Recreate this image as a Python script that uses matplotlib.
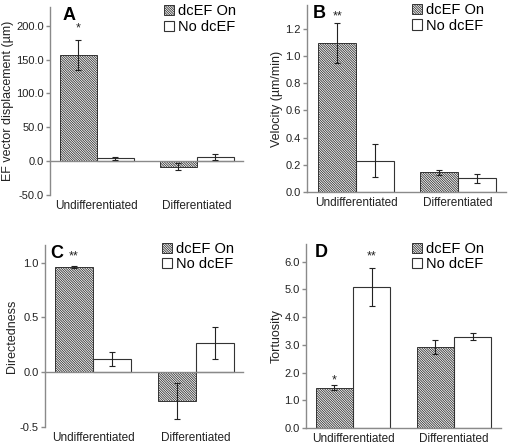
import matplotlib
matplotlib.use("Agg")
import matplotlib.pyplot as plt
from matplotlib.patches import Patch
import numpy as np

plt.rcParams['font.family'] = ['Liberation Sans', 'DejaVu Sans']
plt.rcParams['hatch.linewidth'] = 0.6

categories = ["Undifferentiated", "Differentiated"]
series = ["dcEF On", "No dcEF"]

# Panel A: EF vector displacement (um)
a_on = [157.0, -8.0]
a_on_err = [22.0, 5.5]
a_no = [4.0, 6.0]
a_no_err = [2.0, 5.0]

# Panel B: Velocity (um/min)
b_on = [1.095, 0.145]
b_on_err = [0.148, 0.02]
b_no = [0.23, 0.10]
b_no_err = [0.12, 0.033]

# Panel C: Directedness
c_on = [0.96, -0.26]
c_on_err = [0.006, 0.165]
c_no = [0.12, 0.265]
c_no_err = [0.068, 0.148]

# Panel D: Tortuosity
d_on = [1.45, 2.92]
d_on_err = [0.085, 0.25]
d_no = [5.1, 3.3]
d_no_err = [0.69, 0.11]

panels = [
    dict(letter="A", on=a_on, on_err=a_on_err, no=a_no, no_err=a_no_err,
         ylabel="EF vector displacement (µm)", ylim=(-50, 228),
         yticks=[-50, 0, 50, 100, 150, 200], xlim=(-0.47, 1.46),
         rect=[0.098, 0.563, 0.378, 0.4215],
         stars=[(-0.185, 196, "*")], letter_x=0.1, leg=(0.322, 0.99)),
    dict(letter="B", on=b_on, on_err=b_on_err, no=b_no, no_err=b_no_err,
         ylabel="Velocity (µm/min)", ylim=(0, 1.375),
         yticks=[0, 0.2, 0.4, 0.6, 0.8, 1.0, 1.2], xlim=(-0.48, 1.47),
         rect=[0.602, 0.5695, 0.390, 0.419],
         stars=[(-0.185, 1.295, "**")], letter_x=0.06, leg=(0.808, 0.993)),
    dict(letter="C", on=c_on, on_err=c_on_err, no=c_no, no_err=c_no_err,
         ylabel="Directedness", ylim=(-0.5, 1.16),
         yticks=[-0.5, 0.0, 0.5, 1.0], xlim=(-0.47, 1.46),
         rect=[0.088, 0.0426, 0.388, 0.408],
         stars=[(-0.185, 1.06, "**")], letter_x=0.06, leg=(0.318, 0.458)),
    dict(letter="D", on=d_on, on_err=d_on_err, no=d_no, no_err=d_no_err,
         ylabel="Tortuosity", ylim=(0, 6.64),
         yticks=[0, 1, 2, 3, 4, 5, 6], xlim=(-0.465, 1.465),
         rect=[0.6, 0.0404, 0.382, 0.4126],
         stars=[(-0.185, 1.73, "*"), (0.185, 6.18, "**")], letter_x=0.08,
         leg=(0.808, 0.458)),
]

fig = plt.figure(figsize=(5.10, 4.46), dpi=100)
x = np.arange(len(categories))
w = 0.37
spine_c = '#8a8a8a'
hatch = '\\' * 14

for p in panels:
    ax = fig.add_axes(p["rect"])
    ax.bar(x - w / 2, p["on"], w, color='white', edgecolor='#333333',
           hatch=hatch, linewidth=0.7, label=series[0], zorder=2)
    ax.bar(x + w / 2, p["no"], w, color='white', edgecolor='#333333',
           linewidth=0.8, label=series[1], zorder=2)
    ax.errorbar(x - w / 2, p["on"], yerr=p["on_err"], fmt='none',
                ecolor='#222222', elinewidth=0.8, capsize=2.5, capthick=0.8, zorder=3)
    ax.errorbar(x + w / 2, p["no"], yerr=p["no_err"], fmt='none',
                ecolor='#222222', elinewidth=0.8, capsize=2.5, capthick=0.8, zorder=3)
    ax.set_xlim(*p["xlim"])
    ax.set_ylim(*p["ylim"])
    ax.set_yticks(p["yticks"])
    ax.set_yticklabels([f"{v:.1f}" for v in p["yticks"]])
    ax.set_xticks([])
    for s in ['top', 'right']:
        ax.spines[s].set_visible(False)
    ax.spines['bottom'].set_position(('data', 0))
    ax.spines['left'].set_color(spine_c)
    ax.spines['bottom'].set_color(spine_c)
    ax.spines['left'].set_linewidth(1.0)
    ax.spines['bottom'].set_linewidth(1.0)
    ax.tick_params(axis='y', color=spine_c, length=3, width=1.0,
                   labelsize=8, labelcolor='#222222', pad=1.5)
    ax.set_ylabel(p["ylabel"], fontsize=9, color='#222222', labelpad=1.5)
    for i, c in enumerate(categories):
        ax.text(x[i], -0.025, c, transform=ax.get_xaxis_transform(),
                ha='center', va='top', fontsize=8.5, color='#222222')
    for sx, sy, st in p["stars"]:
        ax.text(sx, sy, st, ha='center', va='center', fontsize=9, color='#222222')
    ax.text(p["letter_x"], 1.0, p["letter"], transform=ax.transAxes,
            ha='center', va='top', fontsize=13, fontweight='bold')
    handles = [Patch(facecolor='white', edgecolor='#333333', hatch=hatch, linewidth=0.7),
               Patch(facecolor='white', edgecolor='#333333', linewidth=0.8)]
    fig.legend(handles, series, loc='upper left', bbox_to_anchor=p["leg"],
               frameon=False, fontsize=10.5, handlelength=0.7, handleheight=0.7,
               handletextpad=0.25, labelspacing=0.1, borderpad=0, borderaxespad=0)

fig.savefig("out.png", dpi=100)
